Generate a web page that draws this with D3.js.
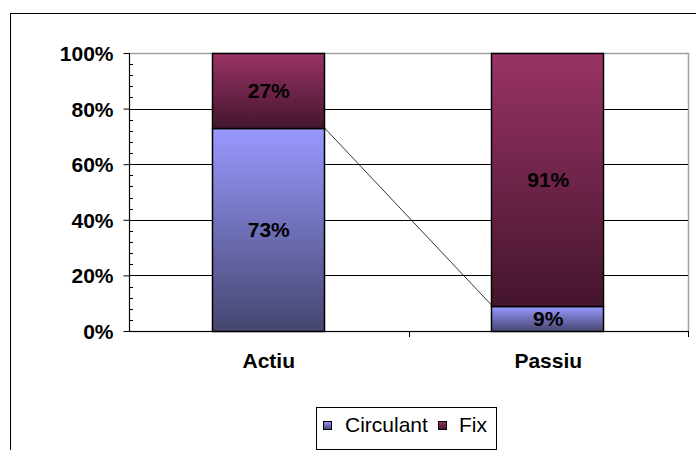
<!DOCTYPE html>
<html><head><meta charset="utf-8">
<script src="https://cdn.jsdelivr.net/npm/d3@7"></script>
<style>body{margin:0;background:#fff}svg{display:block}text{font-family:Arial,"Liberation Sans",sans-serif}</style>
</head><body><svg id="c" width="696" height="450"></svg>
<script>
const categories = ["Actiu", "Passiu"];
const seriesNames = ["Circulant", "Fix"];
const circulant = [73, 9];
const fix = [27, 91];
const yTicks = [0, 20, 40, 60, 80, 100];
const seriesColors = {Circulant: ["#9999FF", "#45456F"], Fix: ["#993366", "#44152C"]};

const svg = d3.select("#c");
const L = 129, R = 688, T = 53, B = 331;
const FS = "21px";

// outer chart border
svg.append("rect").attr("x", 10.5).attr("y", 13.5).attr("width", 700).attr("height", 460)
  .attr("fill", "#fff").attr("stroke", "#000").attr("stroke-width", 1);

const defs = svg.append("defs");
seriesNames.forEach(s => {
  const g = defs.append("linearGradient").attr("id", "g" + s).attr("x1", 0).attr("y1", 0).attr("x2", 0).attr("y2", 1);
  g.append("stop").attr("offset", "0%").attr("stop-color", seriesColors[s][0]);
  g.append("stop").attr("offset", "100%").attr("stop-color", seriesColors[s][1]);
});

const x = d3.scaleBand().domain(categories).range([L, R]).paddingInner(0.6).paddingOuter(0.3);
const y = d3.scaleLinear().domain([0, 100]).range([B, T]);

// plot area border
svg.append("rect").attr("x", L + 0.5).attr("y", T + 0.5).attr("width", R - L).attr("height", B - T)
  .attr("fill", "#fff").attr("stroke", "#a0a0a0").attr("stroke-width", 1.5);

// gridlines
svg.append("g").selectAll("line").data(yTicks.filter(d => d > 0 && d < 100)).join("line")
  .attr("x1", L).attr("x2", R).attr("y1", d => Math.round(y(d)) + 0.5).attr("y2", d => Math.round(y(d)) + 0.5)
  .attr("stroke", "#000").attr("stroke-width", 1);

// stacked data
const data = categories.map((c, i) => ({cat: c, Circulant: circulant[i], Fix: fix[i]}));
const stack = d3.stack().keys(seriesNames)(data);

const layers = svg.append("g").selectAll("g").data(stack).join("g")
  .attr("fill", d => "url(#g" + d.key + ")");
layers.selectAll("rect").data(d => d).join("rect")
  .attr("x", d => Math.round(x(d.data.cat)) - 0.5)
  .attr("y", d => Math.round(y(d[1])) + 0.5)
  .attr("width", Math.round(x.bandwidth()))
  .attr("height", d => Math.round(y(d[0])) - Math.round(y(d[1])))
  .attr("stroke", "#000").attr("stroke-width", 1.5);

// series line (connecting Circulant tops)
const c0 = categories[0], c1 = categories[1];
svg.append("line")
  .attr("x1", x(c0) + x.bandwidth()).attr("y1", y(circulant[0]))
  .attr("x2", x(c1)).attr("y2", y(circulant[1]))
  .attr("stroke", "#000").attr("stroke-width", 0.8);

// data labels
stack.forEach(layer => {
  layer.forEach(d => {
    svg.append("text")
      .attr("x", x(d.data.cat) + x.bandwidth() / 2)
      .attr("y", (y(d[0]) + y(d[1])) / 2 + 7.5)
      .attr("text-anchor", "middle").attr("font-size", FS).attr("font-weight", "bold")
      .attr("fill", "#000")
      .text((d[1] - d[0]) + "%");
  });
});

// y axis
const yAxis = d3.axisLeft(y).tickValues(yTicks).tickFormat(d => d + "%").tickSize(6).tickPadding(10);
const ya = svg.append("g").attr("transform", `translate(${L + 0.5},0)`).call(yAxis);
ya.select(".domain").attr("stroke", "#000").attr("d", `M0,${T}V${B}`);
ya.selectAll(".tick line").attr("stroke", "#000");
ya.selectAll(".tick text").attr("font-size", FS).attr("font-weight", "bold").attr("fill", "#000")
  .attr("font-family", "Arial, 'Liberation Sans', sans-serif").attr("dy", "0.36em");
// minor ticks
const minor = d3.range(0, 101, 4).filter(v => v % 20 !== 0);
svg.append("g").selectAll("line").data(minor).join("line")
  .attr("x1", L).attr("x2", L + 4).attr("y1", d => Math.round(y(d)) + 0.5).attr("y2", d => Math.round(y(d)) + 0.5)
  .attr("stroke", "#000");

// x axis
svg.append("line").attr("x1", L).attr("x2", R + 1).attr("y1", B + 0.5).attr("y2", B + 0.5).attr("stroke", "#000");
const xa = svg.append("g").attr("transform", `translate(0,${B})`)
  .call(d3.axisBottom(x).tickSize(0));
xa.select(".domain").remove();
xa.selectAll(".tick text").attr("font-size", FS).attr("font-weight", "bold").attr("fill", "#000")
  .attr("font-family", "Arial, 'Liberation Sans', sans-serif").attr("y", 37).attr("dy", 0);
// category separator ticks
const seps = [L + (R - L) / 2, R];
svg.append("g").selectAll("line").data(seps).join("line")
  .attr("x1", d => Math.round(d) + 0.5).attr("x2", d => Math.round(d) + 0.5)
  .attr("y1", B).attr("y2", B + 6).attr("stroke", "#000");

// legend
const lg = svg.append("g");
lg.append("rect").attr("x", 316.5).attr("y", 407.5).attr("width", 180).attr("height", 42)
  .attr("fill", "#fff").attr("stroke", "#000");
const legItems = [{k: "Circulant", sx: 323, tx: 345}, {k: "Fix", sx: 438, tx: 459}];
legItems.forEach(it => {
  lg.append("rect").attr("x", it.sx + 0.5).attr("y", 421.5).attr("width", 8).attr("height", 8)
    .attr("fill", "url(#g" + it.k + ")").attr("stroke", "#000");
  lg.append("text").attr("x", it.tx).attr("y", 432).attr("font-size", FS).attr("fill", "#000").text(it.k);
});
</script></body></html>
